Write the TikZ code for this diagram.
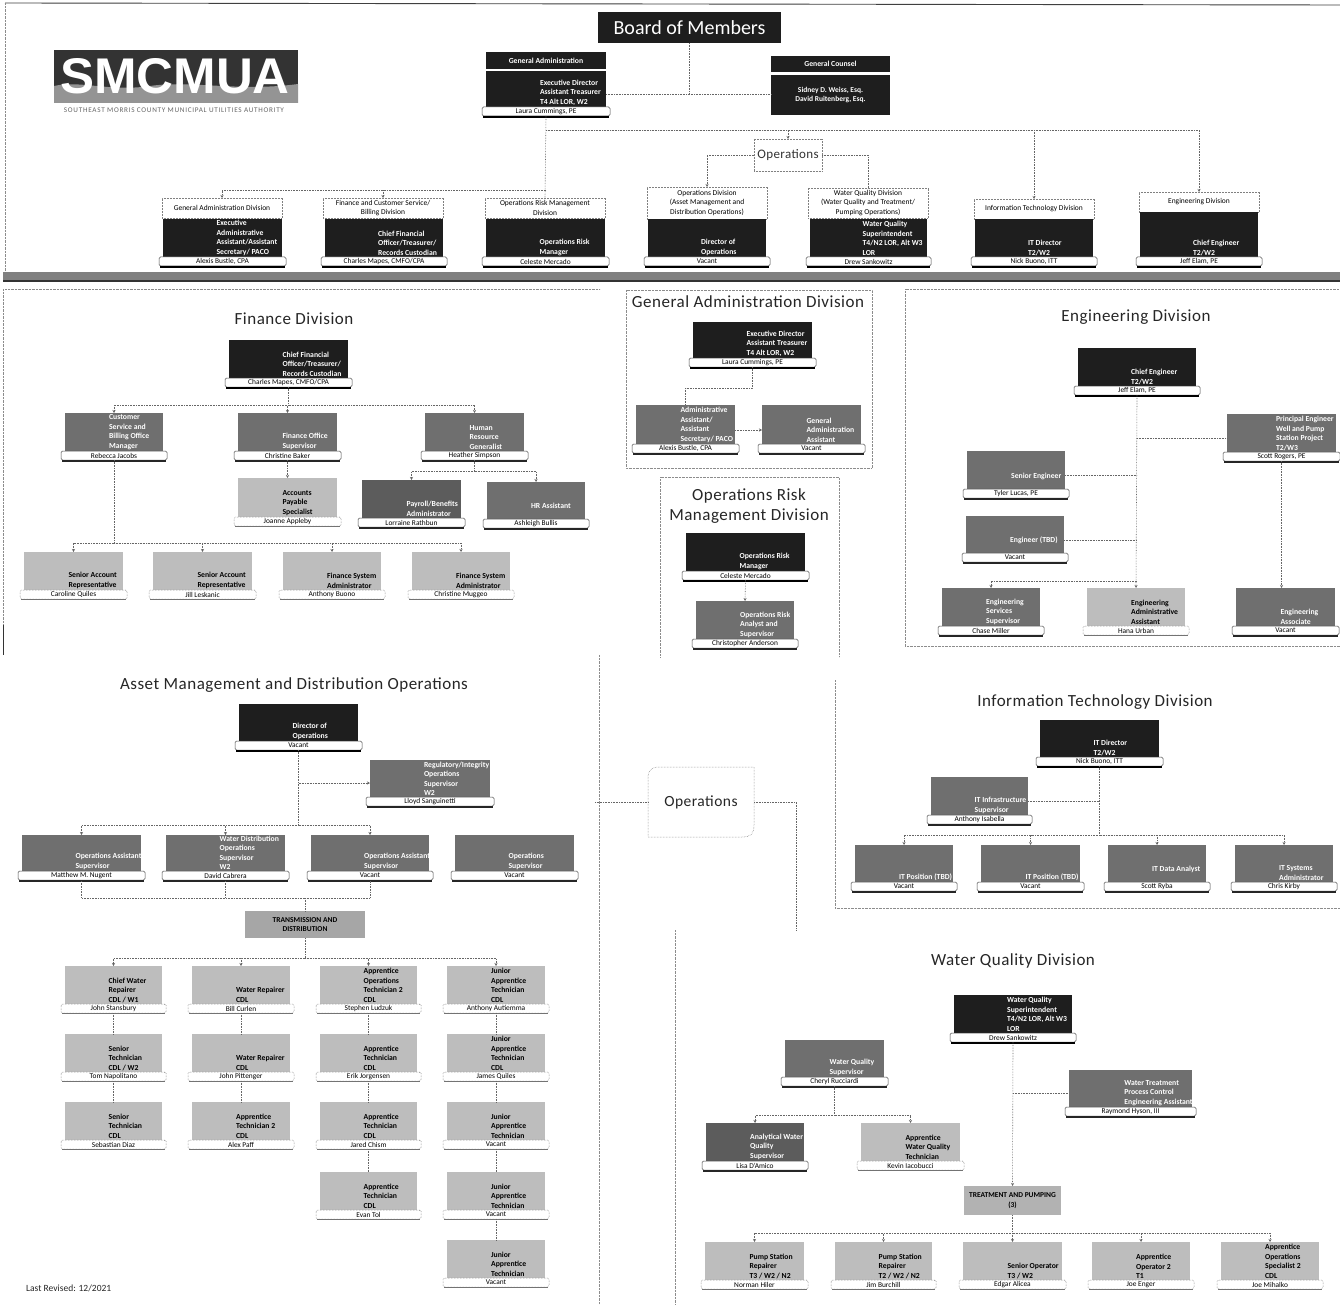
\documentclass[tikz,border=0pt]{standalone}
\usepackage{fontspec}
\setmainfont{Carlito}
\usetikzlibrary{arrows.meta,calc}
\definecolor{cdark}{HTML}{1E1E1E}
\definecolor{cdeep}{HTML}{5C5C5C}
\definecolor{cmid}{HTML}{6F6F6F}
\definecolor{clight}{HTML}{BDBDBD}
\definecolor{cline}{HTML}{666666}
\newfontfamily\spacedfont[LetterSpace=3]{Carlito}
\newfontfamily\widefont[LetterSpace=10]{Carlito}
\newcommand{\cardfont}{\fontsize{7.7}{9.5}\selectfont\bfseries}
\newcommand{\namefont}{\fontsize{7.4}{8}\selectfont}
\newcommand{\headfont}{\spacedfont\fontsize{17}{20}\selectfont}
\tikzset{
  x=1pt,y=-1pt,
  conn/.style={densely dotted,line width=0.6pt,draw=cline},
  arr/.style={conn,-{Stealth[length=3pt,width=3pt]}},
  frm/.style={densely dotted,line width=0.4pt,draw=black!45},
  bodybase/.style={rectangle,inner sep=0pt,outer sep=0pt},
  body-dark/.style={bodybase,fill=cdark},
  body-deep/.style={bodybase,fill=cdeep},
  body-mid/.style={bodybase,fill=cmid},
  body-light/.style={bodybase,fill=clight},
  cardtext/.style={inner sep=0pt,outer sep=0pt,align=left,font=\cardfont},
  txt-dark/.style={text=white},
  txt-deep/.style={text=white},
  txt-mid/.style={text=white},
  txt-light/.style={text=black},
  nbar/.style={rectangle,rounded corners=1.5pt,fill=white,inner sep=0pt,outer sep=0pt,font=\namefont,text=black},
  nbar-dark/.style={draw=black!70,line width=0.5pt},
  nbar-deep/.style={draw=black!70,line width=0.5pt},
  nbar-mid/.style={draw=black!70,line width=0.5pt},
  nbar-light/.style={draw=black!60,densely dotted,line width=0.5pt},
  shad-dark/.style={line width=1.6pt,draw=black},
  shad-deep/.style={line width=1.4pt,draw=black!85},
  shad-mid/.style={line width=1.4pt,draw=black!85},
  shad-light/.style={line width=1.2pt,draw=black!55},
  titlebox/.style={rectangle,draw=black!50,densely dotted,line width=0.5pt,fill=white,inner sep=0pt,outer sep=0pt,align=center,font=\fontsize{7.5}{9.5}\selectfont},
  head/.style={inner sep=0pt,align=center,font=\headfont,text=black!85},
  groupbox/.style={rectangle,inner sep=0pt,outer sep=0pt,align=center,fill=black!35,font=\fontsize{7.5}{9.5}\selectfont\bfseries,text=black},
  topblack/.style={rectangle,fill=cdark,inner sep=0pt,outer sep=0pt,align=center,text=white},
}
% id, x1,y1,x2,y2, kind, title, name
\newcommand{\card}[8]{%
  \pgfmathsetmacro{\cw}{#4-#2}\pgfmathsetmacro{\ch}{#5-#3}%
  \pgfmathsetmacro{\cx}{(#2+#4)/2}\pgfmathsetmacro{\cy}{(#3+#5)/2}%
  \pgfmathsetmacro{\tx}{#2+0.45*(#4-#2)}\pgfmathsetmacro{\nw}{#4-#2+8}%
  \pgfmathsetmacro{\ny}{#5+4.5}%
  \node[body-#6,minimum width=\cw pt,minimum height=\ch pt] (#1) at (\cx,\cy) {};
  \node[cardtext,txt-#6,anchor=south west] (#1-t) at (\tx,#5-1.5) {#7};
  \node[nbar,nbar-#6,minimum width=\nw pt,minimum height=9pt] (#1-n) at (\cx,\ny) {#8};
  \draw[shad-#6] ($(#1-n.south west)+(1,0.8)$) -- ($(#1-n.south east)+(-1,0.8)$);
}
% id, x1,y1,x2,y2, text
\newcommand{\tbox}[6]{%
  \pgfmathsetmacro{\cw}{#4-#2}\pgfmathsetmacro{\ch}{#5-#3}%
  \pgfmathsetmacro{\cx}{(#2+#4)/2}\pgfmathsetmacro{\cy}{(#3+#5)/2}%
  \node[titlebox,minimum width=\cw pt,minimum height=\ch pt] (#1) at (\cx,\cy) {#6};
}
% parent, bus y, children
\newcommand{\busdown}[3]{%
  \coordinate (bt) at (#1.south |- 0,#2);
  \draw[conn] (#1.south) -- (bt);
  \foreach \c in {#3} {\draw[arr] (bt) -| (\c.north);}
}
\begin{document}
\begin{tikzpicture}
\useasboundingbox (0,0) rectangle (1340,1305);
\fill[white] (0,0) rectangle (1340,1305);
\clip (0,0) rectangle (1340,1305);
% sheet edges
\draw[line width=0.9pt,black!75] (5,3) -- (1340,5);
\draw[frm] (5,3) -- (5,272);
\fill[black!50] (3,272) rectangle (1340,280);
\fill[black!80] (3,280) rectangle (1340,282);
\draw[frm] (5,289) -- (600,289);
\draw[frm] (3,289) -- (3,625);
\draw[line width=0.7pt,black!80] (3,625) -- (3,655);
\draw[frm] (599,655) -- (599,1305);
\draw[frm] (675,930) -- (675,1305);
% logo
\fill[black!80] (54,50) rectangle (298,103);
\fill[black!42] (54,86) .. controls (80,80) and (110,92) .. (150,86) .. controls (190,80) and (240,92) .. (298,84) -- (298,103) -- (54,103) -- cycle;
\node[inner sep=0pt,text=white,font=\fontsize{44}{44}\selectfont\fontspec{Liberation Sans}\bfseries,xscale=1.16,yscale=1.14] (logo) at (175,76) {SMCMUA};
\node[inner sep=0pt,text=black!60,font=\widefont\fontsize{7.2}{8}\selectfont] (logosub) at (174,110.5) {SOUTHEAST MORRIS COUNTY MUNICIPAL UTILITIES AUTHORITY};
% top of the chart
\node[topblack,minimum width=183pt,minimum height=31pt,font=\fontsize{20}{22}\selectfont] (board) at (689.5,27.5) {Board of Members};
\node[topblack,minimum width=120pt,minimum height=17pt,font=\fontsize{7.7}{8}\selectfont\bfseries] (gah) at (546,60.5) {General Administration};
\card{ga}{486}{71}{606}{107}{dark}{Executive Director\\Assistant Treasurer\\T4 Alt LOR, W2}{Laura Cummings, PE}
\node[topblack,minimum width=119pt,minimum height=16pt,font=\fontsize{7.7}{8}\selectfont\bfseries] (gch) at (830.5,64) {General Counsel};
\node[topblack,minimum width=119pt,minimum height=40pt,font=\fontsize{7.5}{9.5}\selectfont\bfseries] (gc) at (830.5,95) {Sidney D. Weiss, Esq.\\David Ruitenberg, Esq.};
\coordinate (bj) at (board.south |- 0,94);
\draw[conn] (board.south) -- (bj);
\draw[conn] (ga.east |- bj) -- (gc.west |- bj);
\tbox{dgat}{162}{198}{282}{218}{General Administration Division}
\tbox{dfit}{323}{198}{443}{218}{Finance and Customer Service/\\Billing Division}
\tbox{dort}{485}{198}{605}{218}{Operations Risk Management\\Division}
\tbox{dopt}{647}{187}{767}{219}{Operations Division\\(Asset Management and\\Distribution Operations)}
\tbox{dwqt}{808}{188}{928}{218}{Water Quality Division\\(Water Quality and Treatment/\\Pumping Operations)}
\tbox{ditt}{974}{199}{1094}{219}{Information Technology Division}
\tbox{dent}{1139}{192}{1259}{212}{Engineering Division}
\card{dga}{163}{219}{282}{257}{dark}{Executive\\Administrative\\Assistant/Assistant\\Secretary/ PACO}{Alexis Bustle, CPA}
\card{dfi}{325}{219}{443}{257}{dark}{Chief Financial\\Officer/Treasurer/\\Records Custodian}{Charles Mapes, CMFO/CPA}
\card{dor}{486}{219}{605}{257}{dark}{Operations Risk\\Manager}{Celeste Mercado}
\card{dop}{648}{219}{766}{257}{dark}{Director of\\Operations}{Vacant}
\card{dwq}{810}{219}{927}{257}{dark}{Water Quality\\Superintendent\\T4/N2 LOR, Alt W3\\LOR}{Drew Sankowitz}
\card{dit}{975}{219}{1093}{257}{dark}{IT Director\\T2/W2}{Nick Buono, ITT}
\card{den}{1140}{212}{1258}{257}{dark}{Chief Engineer\\T2/W2}{Jeff Elam, PE}
\node[titlebox,minimum width=68pt,minimum height=32pt,font=\spacedfont\fontsize{13}{14}\selectfont,text=black!80] (opsa) at (788,155) {Operations};
% top connectors
\coordinate (tr) at (ga-n.south |- 0,130);
\draw[conn] (ga-n.south) -- (dort.north);
\coordinate (tl) at (ga-n.south |- 0,190);
\draw[arr] (tl) -| (dgat.north);
\draw[arr] (tl) -| (dfit.north);
\draw[arr] (tr) -| (opsa.north);
\draw[arr] (tr) -| (ditt.north);
\draw[arr] (tr) -| (dent.north);
\draw[arr] (opsa.west) -| (dopt.north);
\draw[conn] (opsa.east) -| (dwqt.north);
% finance
\node[head] (hfin) at (294,319) {Finance Division};
\card{cfo}{229}{340}{348}{378}{dark}{Chief Financial\\Officer/Treasurer/\\Records Custodian}{Charles Mapes, CMFO/CPA}
\card{cus}{65}{413}{163}{451}{mid}{Customer\\Service and\\Billing Office\\Manager}{Rebecca Jacobs}
\card{fos}{238}{413}{337}{451}{mid}{Finance Office\\Supervisor}{Christine Baker}
\card{hrg}{425}{413}{524}{451}{mid}{Human\\Resource\\Generalist}{Heather Simpson}
\card{aps}{238}{478}{337}{517}{light}{Accounts\\Payable\\Specialist}{Joanne Appleby}
\card{pay}{362}{480}{461}{518}{deep}{Payroll/Benefits\\Administrator}{Lorraine Rathbun}
\card{hra}{487}{482}{585}{519}{mid}{HR Assistant\\~}{Ashleigh Bullis}
\card{sr1}{24}{552}{123}{590}{light}{Senior Account\\Representative}{Caroline Quiles}
\card{sr2}{153}{552}{252}{590}{light}{Senior Account\\Representative}{Jill Leskanic}
\card{fs1}{283}{552}{381}{590}{light}{Finance System\\Administrator}{Anthony Buono}
\card{fs2}{412}{552}{510}{590}{light}{Finance System\\Administrator}{Christine Muggeo}
\busdown{cfo-n}{405}{cus,fos,hrg}
\draw[arr] (fos-n.south) -- (aps.north);
\busdown{hrg-n}{471}{pay,hra}
\busdown{cus-n}{543}{sr1,sr2,fs1,fs2}
% general administration
\draw[frm] (626,290) rectangle (872,468);
\node[head] (hga) at (748,302) {General Administration Division};
\card{ged}{693}{322}{812}{358}{dark}{Executive Director\\Assistant Treasurer\\T4 Alt LOR, W2}{Laura Cummings, PE}
\card{gaa}{636}{405}{735}{444}{mid}{Administrative\\Assistant/\\Assistant\\Secretary/ PACO}{Alexis Bustle, CPA}
\card{gab}{762}{405}{861}{444}{mid}{General\\Administration\\Assistant}{Vacant}
\coordinate (gj) at (ged-n.south |- 0,388);
\draw[conn] (ged-n.south) -- (gj) -| (gaa.north);
\draw[arr] (gaa.east |- 0,430) -- (gab.west |- 0,430);
% operations risk
\draw[frm] (660,657) -- (660,477) -- (839,477) -- (839,657);
\node[head] (hor) at (749,506) {Operations Risk\\Management Division};
\card{orm}{686}{533}{805}{571}{dark}{Operations Risk\\Manager}{Celeste Mercado}
\card{ors}{696}{601}{794}{639}{mid}{Operations Risk\\Analyst and\\Supervisor}{Christopher Anderson}
\draw[arr] (orm-n.south) -- (ors.north);
% engineering
\draw[frm] (1340,289) -- (905,289) -- (905,646) -- (1340,646);
\node[head] (hen) at (1136,317) {Engineering Division};
\card{ece}{1078}{348}{1196}{386}{dark}{Chief Engineer\\T2/W2}{Jeff Elam, PE}
\card{epr}{1227}{414}{1336}{452}{mid}{Principal Engineer\\Well and Pump\\Station Project\\T2/W3}{Scott Rogers, PE}
\card{ese}{967}{451}{1065}{489}{mid}{Senior Engineer\\~}{Tyler Lucas, PE}
\card{etb}{966}{516}{1064}{553}{mid}{Engineer (TBD)\\~}{Vacant}
\card{ess}{942}{588}{1040}{626}{mid}{Engineering\\Services\\Supervisor}{Chase Miller}
\card{eaa}{1087}{588}{1185}{626}{light}{Engineering\\Administrative\\Assistant}{Hana Urban}
\card{eas}{1236}{588}{1335}{626}{mid}{Engineering\\Associate}{Vacant}
\draw[arr] (ece-n.south) -- (eaa.north);
\coordinate (ej1) at (ece-n.south |- 0,438);
\draw[conn] (ej1) -- (epr.west |- ej1);
\coordinate (ej2) at (ece-n.south |- 0,475);
\draw[conn] (ese.east |- ej2) -- (ej2);
\coordinate (ej3) at (ece-n.south |- 0,540);
\draw[conn] (etb.east |- ej3) -- (ej3);
\coordinate (ej4) at (ece-n.south |- 0,581);
\draw[arr] (ej4) -| (ess.north);
\draw[arr] (epr-n.south) -- (eas.north -| epr-n.south);
% asset management
\node[head] (has) at (294,685) {Asset Management and Distribution Operations};
\card{dir}{239}{704}{358}{741}{dark}{Director of\\Operations}{Vacant}
\card{reg}{370}{760}{490}{797}{mid}{Regulatory/Integrity\\Operations\\Supervisor\\W2}{Lloyd Sanguinetti}
\card{oa1}{22}{835}{141}{871}{mid}{Operations Assistant\\Supervisor}{Matthew M. Nugent}
\card{wds}{166}{835}{285}{871}{mid}{Water Distribution\\Operations\\Supervisor\\W2}{David Cabrera}
\card{oa2}{311}{835}{429}{871}{mid}{Operations Assistant\\Supervisor}{Vacant}
\card{ops}{455}{835}{574}{871}{mid}{Operations\\Supervisor}{Vacant}
\busdown{dir-n}{825}{oa1,wds,oa2}
\coordinate (aj) at (dir-n.south |- 0,783);
\draw[arr] (aj) -- (reg.west |- aj);
\node[groupbox,minimum width=120pt,minimum height=27pt] (tnd) at (305,924.5) {TRANSMISSION AND\\DISTRIBUTION};
\coordinate (tj) at (tnd.north |- 0,898);
\draw[conn] (tj) -| (oa1-n.south);
\draw[conn] (tj) -| (wds-n.south);
\draw[conn] (tj) -| (oa2-n.south);
\draw[conn] (tj) -- (tnd.north);
% transmission columns
\card{a1}{65}{966}{162}{1004}{light}{Chief Water\\Repairer\\CDL / W1}{John Stansbury}
\card{a2}{65}{1034}{162}{1072}{light}{Senior\\Technician\\CDL / W2}{Tom Napolitano}
\card{a3}{65}{1102}{162}{1140}{light}{Senior\\Technician\\CDL}{Sebastian Diaz}
\card{b1}{192}{966}{290}{1004}{light}{Water Repairer\\CDL}{Bill Curlen}
\card{b2}{192}{1034}{290}{1072}{light}{Water Repairer\\CDL}{John Pittenger}
\card{b3}{192}{1102}{290}{1140}{light}{Apprentice\\Technician 2\\CDL}{Alex Paff}
\card{c1}{320}{966}{417}{1004}{light}{Apprentice\\Operations\\Technician 2\\CDL}{Stephen Ludzuk}
\card{c2}{320}{1034}{417}{1072}{light}{Apprentice\\Technician\\CDL}{Erik Jorgensen}
\card{c3}{320}{1102}{417}{1140}{light}{Apprentice\\Technician\\CDL}{Jared Chism}
\card{c4}{320}{1172}{417}{1210}{light}{Apprentice\\Technician\\CDL}{Evan Tol}
\card{d1}{447}{966}{545}{1004}{light}{Junior\\Apprentice\\Technician\\CDL}{Anthony Autiemma}
\card{d2}{447}{1034}{545}{1072}{light}{Junior\\Apprentice\\Technician\\CDL}{James Quiles}
\card{d3}{447}{1102}{545}{1140}{light}{Junior\\Apprentice\\Technician}{Vacant}
\card{d4}{447}{1172}{545}{1210}{light}{Junior\\Apprentice\\Technician}{Vacant}
\card{d5}{447}{1240}{545}{1278}{light}{Junior\\Apprentice\\Technician}{Vacant}
\busdown{tnd}{958}{a1,b1,c1,d1}
\draw[conn] (a1-n.south) -- (a2.north);
\draw[conn] (a2-n.south) -- (a3.north);
\draw[conn] (b1-n.south) -- (b2.north);
\draw[conn] (b2-n.south) -- (b3.north);
\draw[conn] (c1-n.south) -- (c2.north);
\draw[conn] (c2-n.south) -- (c3.north);
\draw[conn] (c3-n.south) -- (c4.north);
\draw[conn] (d1-n.south) -- (d2.north);
\draw[conn] (d2-n.south) -- (d3.north);
\draw[conn] (d3-n.south) -- (d4.north);
\draw[conn] (d4-n.south) -- (d5.north);
% operations link box
\node[rectangle,minimum width=106pt,minimum height=70pt,inner sep=0pt,outer sep=0pt,font=\spacedfont\fontsize{15.5}{18}\selectfont,text=black!85] (opsb) at (701,802) {Operations};
\draw[densely dotted,line width=0.5pt,draw=black!55] (648,779) .. controls (648,770) and (651,767) .. (660,767) -- (754,767) -- (754,825) .. controls (754,834) and (751,837) .. (742,837) -- (648,837) -- cycle;
\coordinate (ol) at (595,802);
\coordinate (or) at (796,930);
\draw[conn] (ol) -- (opsb.west);
\draw[conn] (opsb.east) -| (or);
% information technology
\draw[frm] (835,680) -- (835,908) -- (1340,908);
\node[head] (hit) at (1095,702) {Information Technology Division};
\card{itd}{1040}{720}{1159}{757}{dark}{IT Director\\T2/W2}{Nick Buono, ITT}
\card{iti}{931}{777}{1028}{815}{mid}{IT Infrastructure\\Supervisor}{Anthony Isabella}
\card{it1}{855}{845}{953}{882}{mid}{IT Position (TBD)}{Vacant}
\card{it2}{981}{845}{1080}{882}{mid}{IT Position (TBD)}{Vacant}
\card{it3}{1108}{845}{1206}{882}{mid}{IT Data Analyst\\~}{Scott Ryba}
\card{it4}{1235}{845}{1333}{882}{mid}{IT Systems\\Administrator}{Chris Kirby}
\busdown{itd-n}{835}{it1,it2,it3,it4}
\coordinate (ij) at (itd-n.south |- 0,801);
\draw[conn] (iti.east |- ij) -- (ij);
% water quality
\node[head] (hwq) at (1013,961) {Water Quality Division};
\card{wqs}{954}{995}{1072}{1033}{dark}{Water Quality\\Superintendent\\T4/N2 LOR, Alt W3\\LOR}{Drew Sankowitz}
\card{wts}{785}{1040}{884}{1077}{mid}{Water Quality\\Supervisor}{Cheryl Rucciardi}
\card{wtp}{1069}{1070}{1192}{1107}{mid}{Water Treatment\\Process Control\\Engineering Assistant}{Raymond Hyson, III}
\card{wan}{706}{1123}{804}{1161}{deep}{Analytical Water\\Quality\\Supervisor}{Lisa D'Amico}
\card{wap}{861}{1123}{960}{1161}{light}{Apprentice\\Water Quality\\Technician}{Kevin Iacobucci}
\node[groupbox,fill=black!30,minimum width=97pt,minimum height=29pt] (tap) at (1012.5,1200.5) {TREATMENT AND PUMPING\\(3)};
\card{w1}{705}{1242}{804}{1280}{light}{Pump Station\\Repairer\\T3 / W2 / N2}{Norman Hiler}
\card{w2}{835}{1242}{932}{1280}{light}{Pump Station\\Repairer\\T2 / W2 / N2}{Jim Burchill}
\card{w3}{963}{1242}{1062}{1280}{light}{Senior Operator\\T3 / W2}{Edgar Alicea}
\card{w4}{1092}{1242}{1190}{1280}{light}{Apprentice\\Operator 2\\T1}{Joe Enger}
\card{w5}{1221}{1242}{1319}{1280}{light}{Apprentice\\Operations\\Specialist 2\\CDL}{Joe Mihalko}
\draw[arr] (wqs-n.south) -- (tap.north);
\coordinate (wj) at (wqs-n.south |- 0,1093);
\draw[conn] (wj) -- (wtp.west |- wj);
\busdown{wts-n}{1115}{wan,wap}
\busdown{tap}{1233}{w1,w2,w3,w4,w5}
% footer
\node[anchor=west,inner sep=0pt,font=\fontsize{9.5}{10}\selectfont,text=black!85] (rev) at (26,1288) {Last Revised: 12/2021};
\end{tikzpicture}
\end{document}
